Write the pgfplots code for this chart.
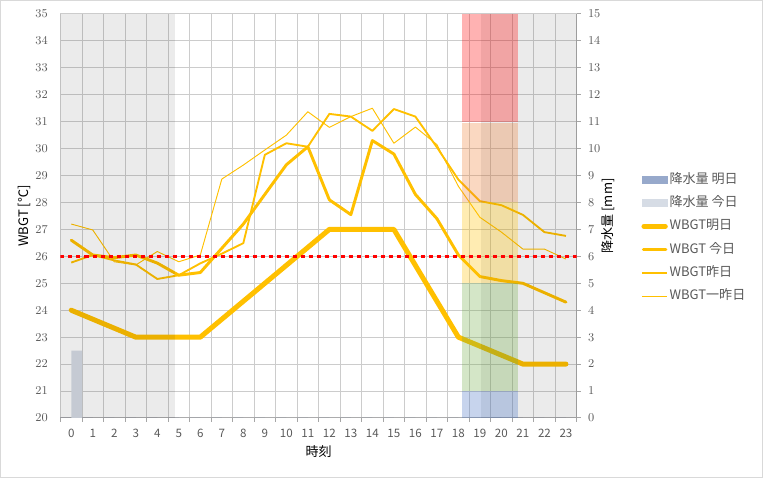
\documentclass[border=0pt]{standalone}
\usepackage{fontspec}
\setmainfont{Noto Sans CJK JP}
\usepackage{pgfplots}
\usepackage{pgfplotstable}
\pgfplotsset{compat=1.18}
\definecolor{wbgt}{RGB}{255,192,0}
\definecolor{gridc}{RGB}{204,204,204}
\definecolor{tickc}{RGB}{89,89,89}
\definecolor{axc}{RGB}{166,166,166}
\definecolor{rainT}{RGB}{151,169,203}
\definecolor{rainD}{RGB}{214,220,229}
\definecolor{bandA}{RGB}{255,0,0}
\definecolor{bandB}{RGB}{237,125,49}
\definecolor{bandC}{RGB}{255,192,0}
\definecolor{bandD}{RGB}{112,173,71}
\definecolor{bandE}{RGB}{68,114,196}
\definecolor{borderc}{RGB}{217,217,217}

\pgfplotstableread{
h today yest dby
0 26.60 25.77 27.20
1 26.05 26.05 26.98
2 25.95 25.85 25.80
3 26.05 25.70 25.68
4 25.75 25.16 26.18
5 25.30 25.30 25.80
6 25.40 25.74 26.05
7 26.30 26.10 28.87
8 27.20 26.49 29.39
9 28.30 29.77 29.95
10 29.40 30.20 30.50
11 30.07 30.07 31.37
12 28.10 31.29 30.79
13 27.55 31.19 31.19
14 30.30 30.66 31.50
15 29.80 31.47 30.20
16 28.30 31.19 30.80
17 27.40 30.05 30.15
18 26.05 28.85 28.60
19 25.25 28.05 27.45
20 25.10 27.90 26.90
21 25.00 27.54 26.27
22 24.65 26.90 26.27
23 24.30 26.76 25.90
}\wbgtdata

\pgfplotstableread{
h tomorrow
0 24
3 23
6 23
12 27
15 27
18 23
21 22
23 22
}\wbgttomorrow

\pgfplotstableread{
h tomorrow today
0 0 2.5
1 0 0
2 0 0
3 0 0
4 0 0
5 0 0
6 0 0
7 0 0
8 0 0
9 0 0
10 0 0
11 0 0
12 0 0
13 0 0
14 0 0
15 0 0
16 0 0
17 0 0
18 0 0
19 0 0
20 0 0
21 0 0
22 0 0
23 0 0
}\raindata

\newcommand{\tfont}{\fontsize{8.7}{10}\selectfont}
\newcommand{\lfont}{\fontsize{9.8}{11}\selectfont}

\begin{document}
\begin{tikzpicture}
% right axis: grid, precipitation bars, x axis
\begin{axis}[
  name=ax1,
  scale only axis, width=387.15pt, height=303pt,
  xmin=-0.5, xmax=23.5, ymin=0, ymax=15,
  axis x line*=bottom, axis y line*=right,
  xtick={-0.5,0.5,...,23.5},
  x tick label as interval,
  xticklabels={0,1,2,3,4,5,6,7,8,9,10,11,12,13,14,15,16,17,18,19,20,21,22,23},
  ytick={0,1,...,15},
  grid=major, major grid style={gridc, line width=0.75pt},
  tick style={axc, line width=0.75pt}, major tick length=3pt, tick align=outside,
  axis line style={axc, line width=0.75pt},
  ticklabel style={font=\tfont, text=tickc},
  xticklabel style={yshift=-2pt},
  yticklabel style={xshift=2pt},
  ylabel={降水量 [mm]},
  ylabel style={at={(axis description cs:1.0607,0.5)}, anchor=center, font=\lfont},
  xlabel={時刻},
  xlabel style={at={(axis description cs:0.5,-0.0842)}, anchor=center, font=\lfont},
]
\addplot[ybar, bar width=0.5, bar shift=-0.25, fill=rainT, draw=none, forget plot] table[x=h,y=tomorrow]{\raindata};
\addplot[ybar, bar width=0.5, bar shift=0.25, fill=rainD, draw=none, forget plot] table[x=h,y=today]{\raindata};
\end{axis}
% left axis: WBGT lines
\begin{axis}[
  name=ax,
  scale only axis, width=387.15pt, height=303pt,
  xmin=-0.5, xmax=23.5, ymin=20, ymax=35,
  axis x line=none, axis y line*=left,
  axis line style={draw=none},
  ytick={20,21,...,35},
  major tick length=0pt,
  ticklabel style={font=\tfont, text=tickc},
  yticklabel style={xshift=-6pt},
  ylabel={WBGT [℃]},
  ylabel style={at={(axis description cs:-0.0708,0.5)}, anchor=center, font=\lfont},
  legend style={draw=none, fill=none, inner sep=0pt, outer sep=0pt,
    at={(axis description cs:1.1246,0.4455)}, anchor=west,
    font=\lfont, text=tickc, row sep=7pt,
    nodes={inner sep=1pt, text height=7pt, text depth=1.5pt}},
  legend cell align=left,
]
\addlegendimage{legend image code/.code={\fill[rainT] (0pt,-2.5pt) rectangle (19pt,2.5pt);}}
\addlegendentry{降水量 明日}
\addlegendimage{legend image code/.code={\fill[rainD] (0pt,-2.5pt) rectangle (19pt,2.5pt);}}
\addlegendentry{降水量 今日}
\addplot[wbgt, line width=3.75pt, line join=round, line cap=round,
  legend image code/.code={\draw[wbgt, line width=3.75pt, line cap=round] (1.5pt,0pt) -- (17.5pt,0pt);}] table[x=h,y=tomorrow]{\wbgttomorrow};
\addlegendentry{WBGT明日}
\addplot[wbgt, line width=2.2pt, line join=round, line cap=round,
  legend image code/.code={\draw[wbgt, line width=2.2pt, line cap=round] (1pt,0pt) -- (18pt,0pt);}] table[x=h,y=today]{\wbgtdata};
\addlegendentry{WBGT 今日}
\addplot[wbgt, line width=1.4pt, line join=round,
  legend image code/.code={\draw[wbgt, line width=1.4pt] (0pt,0pt) -- (19pt,0pt);}] table[x=h,y=yest]{\wbgtdata};
\addlegendentry{WBGT昨日}
\addplot[wbgt, line width=0.7pt, line join=round,
  legend image code/.code={\draw[wbgt, line width=0.7pt] (0pt,0pt) -- (19pt,0pt);}] table[x=h,y=dby]{\wbgtdata};
\addlegendentry{WBGT一昨日}
% night shading
\fill[black, opacity=0.08] (axis cs:-0.5,20) rectangle (axis cs:4.82,35);
\fill[black, opacity=0.08] (axis cs:19.06,20) rectangle (axis cs:23.5,35);
% WBGT level band
\fill[bandA, opacity=0.3] (axis cs:18.17,31) rectangle (axis cs:20.76,35);
\fill[bandB, opacity=0.3] (axis cs:18.17,28) rectangle (axis cs:20.76,30.95);
\fill[bandC, opacity=0.3] (axis cs:18.17,25) rectangle (axis cs:20.76,28);
\fill[bandD, opacity=0.3] (axis cs:18.17,21) rectangle (axis cs:20.76,25);
\fill[bandE, opacity=0.3] (axis cs:18.17,20) rectangle (axis cs:20.76,21);
% threshold
\addplot[red, line width=2.7pt, dash pattern=on 3pt off 3pt, forget plot] coordinates {(-0.5,26) (23.5,26)};
\end{axis}
\draw[borderc, line width=0.75pt] ([shift={(-45.0pt,-44.6pt)}]ax.south west) rectangle ([shift={(526.5pt,313.1pt)}]ax.south west);
\end{tikzpicture}
\end{document}
